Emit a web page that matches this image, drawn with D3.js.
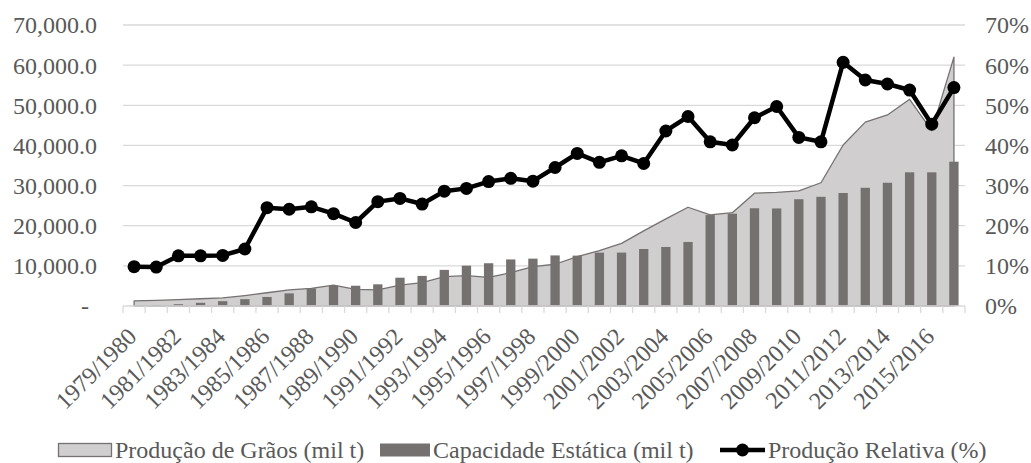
<!DOCTYPE html>
<html>
<head>
<meta charset="utf-8">
<script src="https://cdn.jsdelivr.net/npm/d3@7"></script>
<style>
  body { margin: 0; background: #fff; }
  text { font-family: "Liberation Serif", "Times New Roman", serif; fill: #595959; }
</style>
</head>
<body>
<div id="app"></div>
<script>
// safras 1979/1980 .. 2016/2017
const categories = [
  "1979/1980", "1980/1981", "1981/1982", "1982/1983", "1983/1984", "1984/1985",
  "1985/1986", "1986/1987", "1987/1988", "1988/1989", "1989/1990", "1990/1991",
  "1991/1992", "1992/1993", "1993/1994", "1994/1995", "1995/1996", "1996/1997",
  "1997/1998", "1998/1999", "1999/2000", "2000/2001", "2001/2002", "2002/2003",
  "2003/2004", "2004/2005", "2005/2006", "2006/2007", "2007/2008", "2008/2009",
  "2009/2010", "2010/2011", "2011/2012", "2012/2013", "2013/2014", "2014/2015",
  "2015/2016", "2016/2017"
];

// Produção de Grãos (mil t)
const producao = [
  1300, 1400, 1600, 1800, 2000, 2600, 3300, 4000, 4400, 5200,
  4150, 4000, 5200, 5800, 7300, 7550, 7150, 8300, 9800, 10400,
  12300, 13800, 15600, 18700, 21700, 24600, 22700, 23250, 28100, 28300,
  28700, 30700, 40100, 45800, 47600, 51500, 43700, 62000
];

// Capacidade Estática (mil t)
const capacidade = [
  50, 200, 450, 800, 1200, 1700, 2250, 3150, 4400, 5050,
  5050, 5400, 7050, 7500, 9000, 10050, 10650, 11600, 11800, 12600,
  12550, 13300, 13300, 14200, 14700, 15950, 22650, 23000, 24350, 24300,
  26600, 27200, 28150, 29450, 30700, 33300, 33300, 35950
];

// Produção Relativa (%)
const relativa = [
  9.8, 9.7, 12.5, 12.5, 12.6, 14.2, 24.5, 24.1, 24.7, 23.0,
  20.8, 26.0, 26.8, 25.4, 28.6, 29.3, 31.0, 31.8, 31.1, 34.5,
  38.0, 35.8, 37.4, 35.5, 43.6, 47.2, 40.9, 40.1, 46.9, 49.7,
  42.0, 40.9, 60.7, 56.3, 55.3, 53.8, 45.3, 54.4
];

const leftTicks = [0, 10000, 20000, 30000, 40000, 50000, 60000, 70000];
const rightTicks = [0, 10, 20, 30, 40, 50, 60, 70];
const legendLabels = ["Produção de Grãos (mil t)", "Capacidade Estática (mil t)", "Produção Relativa (%)"];

const W = 1031, H = 463;
const margin = { top: 25, right: 66, bottom: 157, left: 123 };
const width = W - margin.left - margin.right;
const height = H - margin.top - margin.bottom;

const svg = d3.select("#app")
  .append("svg")
  .attr("width", W)
  .attr("height", H);

const g = svg.append("g")
  .attr("transform", `translate(${margin.left}, ${margin.top})`);

const x = d3.scaleBand()
  .domain(categories)
  .range([0, width])
  .padding(0);

const y = d3.scaleLinear().domain([0, 70000]).range([height, 0]);
const y2 = d3.scaleLinear().domain([0, 70]).range([height, 0]);

const cx = d => x(d) + x.bandwidth() / 2;

// gridlines
g.selectAll(".grid")
  .data(leftTicks.slice(1))
  .enter()
  .append("line")
  .attr("x1", 0).attr("x2", width)
  .attr("y1", d => y(d)).attr("y2", d => y(d))
  .attr("stroke", "#d9d9d9")
  .attr("stroke-width", 1.3);

// area
const area = d3.area()
  .x((d, i) => cx(categories[i]))
  .y0(height)
  .y1(d => y(d));

g.append("path")
  .datum(producao)
  .attr("d", area)
  .attr("fill", "#d0cece")
  .attr("stroke", "#767171")
  .attr("stroke-width", 1.3)
  .attr("stroke-linejoin", "round");

// bars
const barW = x.bandwidth() * 0.42;
g.selectAll(".bar")
  .data(capacidade)
  .enter()
  .append("rect")
  .attr("x", (d, i) => cx(categories[i]) - barW / 2)
  .attr("y", d => y(d))
  .attr("width", barW)
  .attr("height", d => height - y(d))
  .attr("fill", "#767171");

// x axis line + ticks
g.append("line")
  .attr("x1", 0).attr("x2", width)
  .attr("y1", height).attr("y2", height)
  .attr("stroke", "#d9d9d9")
  .attr("stroke-width", 1.3);

g.selectAll(".xtick")
  .data(categories.concat([null]))
  .enter()
  .append("line")
  .attr("x1", (d, i) => i * x.bandwidth())
  .attr("x2", (d, i) => i * x.bandwidth())
  .attr("y1", height).attr("y2", height + 7)
  .attr("stroke", "#d9d9d9")
  .attr("stroke-width", 1.3);

g.selectAll(".xlabel")
  .data(categories.filter((d, i) => i % 2 === 0))
  .enter()
  .append("text")
  .attr("transform", d => `translate(${cx(d) + 4}, ${height + 32}) rotate(-45)`)
  .attr("text-anchor", "end")
  .style("font-size", "24px")
  .text(d => d);

// line
const line = d3.line()
  .x((d, i) => cx(categories[i]))
  .y(d => y2(d));

g.append("path")
  .datum(relativa)
  .attr("d", line)
  .attr("fill", "none")
  .attr("stroke", "#000")
  .attr("stroke-width", 4.5)
  .attr("stroke-linejoin", "round");

g.selectAll(".dot")
  .data(relativa)
  .enter()
  .append("circle")
  .attr("cx", (d, i) => cx(categories[i]))
  .attr("cy", d => y2(d))
  .attr("r", 6.5)
  .attr("fill", "#000");

// left axis labels
const fmt = d3.format(",.1f");
g.selectAll(".ylabel")
  .data(leftTicks)
  .enter()
  .append("text")
  .attr("x", d => d === 0 ? -34 : -26)
  .attr("y", d => y(d))
  .attr("dy", "0.35em")
  .attr("text-anchor", "end")
  .style("font-size", "24px")
  .text(d => d === 0 ? "-" : fmt(d));

// right axis labels
g.selectAll(".y2label")
  .data(rightTicks)
  .enter()
  .append("text")
  .attr("x", width + 20)
  .attr("y", d => y2(d))
  .attr("dy", "0.35em")
  .attr("text-anchor", "start")
  .style("font-size", "24px")
  .text(d => d + "%");

// legend
const leg = svg.append("g").attr("transform", "translate(0, 450)");

leg.append("rect")
  .attr("x", 58.5).attr("y", -6.5)
  .attr("width", 53).attr("height", 13)
  .attr("fill", "#d0cece")
  .attr("stroke", "#767171")
  .attr("stroke-width", 1.3);
leg.append("text")
  .attr("x", 115).attr("y", 0).attr("dy", "0.35em")
  .style("font-size", "24px")
  .text(legendLabels[0]);

leg.append("rect")
  .attr("x", 380).attr("y", -6.5)
  .attr("width", 50).attr("height", 13)
  .attr("fill", "#767171");
leg.append("text")
  .attr("x", 433).attr("y", 0).attr("dy", "0.35em")
  .style("font-size", "24px")
  .text(legendLabels[1]);

leg.append("line")
  .attr("x1", 720).attr("x2", 765)
  .attr("y1", 0).attr("y2", 0)
  .attr("stroke", "#000")
  .attr("stroke-width", 4.5);
leg.append("circle")
  .attr("cx", 742.5).attr("cy", 0).attr("r", 6.5)
  .attr("fill", "#000");
leg.append("text")
  .attr("x", 768).attr("y", 0).attr("dy", "0.35em")
  .style("font-size", "24px")
  .text(legendLabels[2]);
</script>
</body>
</html>
